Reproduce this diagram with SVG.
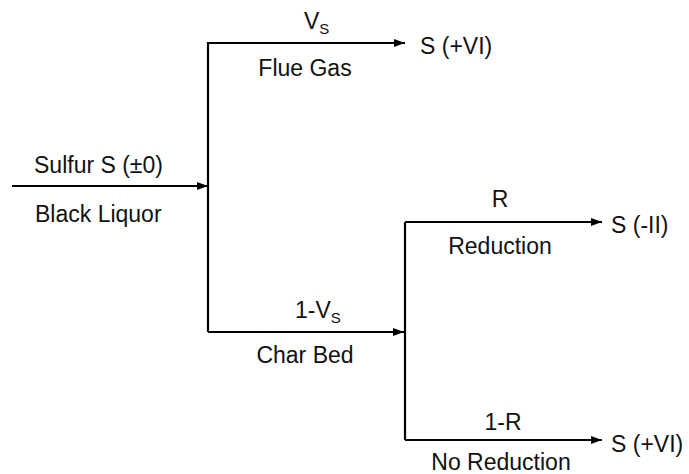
<svg xmlns="http://www.w3.org/2000/svg" width="689" height="474" viewBox="0 0 689 474">
<defs>
<marker id="ah" markerWidth="11" markerHeight="8" refX="11" refY="4" orient="auto" markerUnits="userSpaceOnUse">
<path d="M0,0 L11,4 L0,8 Z" fill="#000"/>
</marker>
<style>
text{font-family:"Liberation Sans",Arial,sans-serif;font-size:23px;fill:#111}
.m{text-anchor:middle}
.sub{font-size:15px}
.ln{stroke:#000;stroke-width:2.2;fill:none}
</style>
</defs>
<rect width="689" height="474" fill="#fff"/>
<g id="connectors">
<line class="ln" x1="12" y1="186" x2="208" y2="186" marker-end="url(#ah)"/>
<polyline class="ln" points="208,332 208,43 405,43" marker-end="url(#ah)"/>
<line class="ln" x1="208" y1="332" x2="404" y2="332" marker-end="url(#ah)"/>
<line class="ln" x1="405" y1="222" x2="405" y2="440"/>
<line class="ln" x1="405" y1="222" x2="602" y2="222" marker-end="url(#ah)"/>
<line class="ln" x1="405" y1="440" x2="602" y2="440" marker-end="url(#ah)"/>
</g>
<g id="labels">
<text x="34" y="173">Sulfur S (±0)</text>
<text x="35" y="222">Black Liquor</text>
<text x="304" y="29">V<tspan class="sub" dy="5">S</tspan></text>
<text class="m" x="305" y="76">Flue Gas</text>
<text x="295" y="318">1-V<tspan class="sub" dy="5">S</tspan></text>
<text class="m" x="305" y="363">Char Bed</text>
<text class="m" x="500" y="207">R</text>
<text class="m" x="500" y="254">Reduction</text>
<text class="m" x="503" y="430">1-R</text>
<text class="m" x="501" y="470">No Reduction</text>
</g>
<g id="node-sVI-top"><text x="420" y="54">S (+VI)</text></g>
<g id="node-sII"><text x="611" y="233">S (-II)</text></g>
<g id="node-sVI-bottom"><text x="611" y="452">S (+VI)</text></g>
</svg>
